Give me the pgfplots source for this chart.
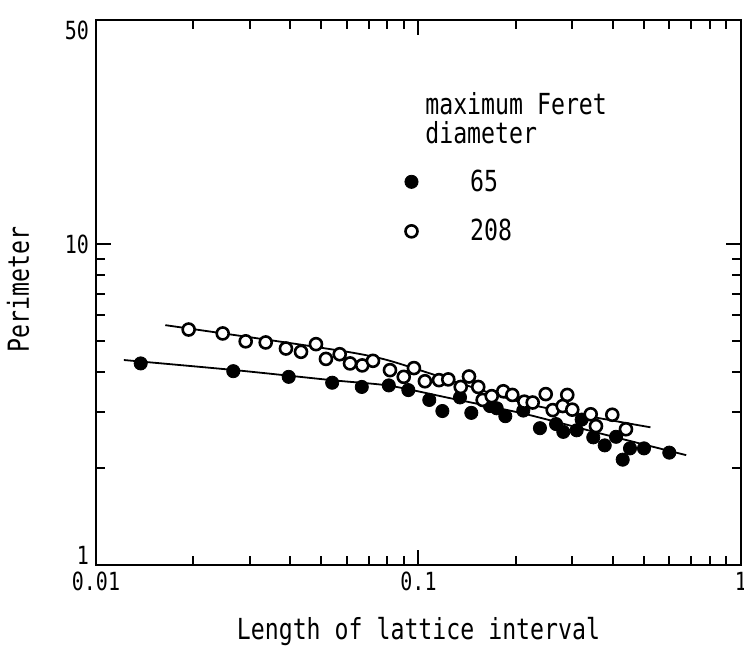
\documentclass[border=0pt]{standalone}
\usepackage{fontspec}
\setmainfont{DejaVu Sans Mono}[FakeStretch=0.8]
\usepackage{pgfplots}
\pgfplotsset{compat=1.18}
\begin{document}
\begin{tikzpicture}
\begin{axis}[name=ax, at={(0,0)}, anchor=south west,
  scale only axis, width=322.5pt, height=272.5pt,
  xmode=log, ymode=log, xmin=0.01, xmax=1, ymin=1, ymax=50,
  xtick={0.01,0.1,1}, xticklabels={0.01,0.1,1},
  minor xtick={0.02,0.03,0.04,0.05,0.06,0.07,0.08,0.09,0.2,0.3,0.4,0.5,0.6,0.7,0.8,0.9},
  ytick={1,10,50}, yticklabels={\raisebox{5pt}[\height][\depth]{1},10,\raisebox{-5pt}[\height][\depth]{50}},
  minor ytick={2,3,4,5,6,7,8,9},
  tick align=inside, major tick length=7.5pt, minor tick length=4.5pt,
  axis line style={line width=1.2pt},
  every tick/.style={line width=1pt, black},
  ticklabel style={font=\fontsize{12.5}{14}\selectfont},
  /pgf/number format/assume math mode=true,
  every axis x label/.style={at={(rel axis cs:0.5,0)}, yshift=-33.5pt, anchor=center, font=\fontsize{14.5}{17}\selectfont},
  every axis y label/.style={at={(rel axis cs:0,0.505)}, xshift=-39pt, rotate=90, anchor=center, font=\fontsize{14.5}{17}\selectfont},
  xlabel={Length of lattice interval}, ylabel={Perimeter},
  legend image code/.code={\draw[#1] plot coordinates {(0pt,0pt)};},
  legend style={draw=none, fill=none, at={(rel axis cs:0.469,0.741)}, anchor=north west,
    font=\fontsize{14.5}{17}\selectfont, row sep=8.5pt,
    /tikz/every odd column/.append style={column sep=24pt}},
  legend cell align=left,
]
% fitted lines
\addplot[black, line width=0.9pt, forget plot, smooth, tension=0.4] coordinates {
(0.01220,4.355) (0.02694,4.051) (0.05415,3.767) (0.08101,3.624) (0.1245,3.316)
(0.2130,2.960) (0.3646,2.574) (0.6762,2.200)};
\addplot[black, line width=0.9pt, forget plot, smooth, tension=0.4] coordinates {
(0.01640,5.594) (0.04734,4.795) (0.07991,4.355) (0.2130,3.196) (0.5240,2.687)};
% 65 (filled)
\addplot[only marks, mark=*, mark size=3.3pt, mark options={fill=black, draw=black}] coordinates {
(0.01376,4.25) (0.02665,4.02) (0.03959,3.86) (0.0540,3.70) (0.0667,3.59) (0.0809,3.63)
(0.0930,3.51) (0.1080,3.27) (0.1186,3.02) (0.1345,3.33) (0.1458,2.98) (0.1666,3.13)
(0.1748,3.08) (0.1859,2.91) (0.2113,3.03) (0.2380,2.67) (0.2670,2.75) (0.2812,2.60)
(0.3094,2.63) (0.3206,2.84) (0.3483,2.50) (0.3780,2.36) (0.4098,2.51) (0.4298,2.13)
(0.4527,2.31) (0.5003,2.31) (0.5993,2.24)
};
\addlegendentry{65}
% 208 (open)
\addplot[only marks, mark=*, mark size=3pt, mark options={fill=white, draw=black, line width=1.3pt}] coordinates {
(0.01938,5.42) (0.02471,5.27) (0.02912,4.98) (0.03359,4.94) (0.03882,4.73) (0.04322,4.62)
(0.04810,4.88) (0.05165,4.39) (0.05698,4.54) (0.06134,4.25) (0.06694,4.19) (0.07226,4.33)
(0.08159,4.05) (0.0900,3.86) (0.0968,4.11) (0.1047,3.74) (0.1158,3.77) (0.1237,3.79)
(0.1352,3.59) (0.1434,3.87) (0.1532,3.59) (0.1581,3.27) (0.1687,3.36) (0.1832,3.48)
(0.1954,3.39) (0.2129,3.23) (0.2260,3.21) (0.2480,3.41) (0.2607,3.04) (0.2800,3.13)
(0.2893,3.39) (0.2998,3.05) (0.3420,2.95) (0.3551,2.71) (0.3990,2.94) (0.4399,2.65)
};
\addlegendentry{208}
\node[anchor=north west, align=left, inner sep=0pt, font=\fontsize{14.5}{14.5}\selectfont]
  at (rel axis cs:0.510,0.868) {maximum Feret\\diameter};
\end{axis}
\pgfresetboundingbox
\path (-48pt,-46.5pt) rectangle (324pt,282.5pt);
\end{tikzpicture}
\end{document}
